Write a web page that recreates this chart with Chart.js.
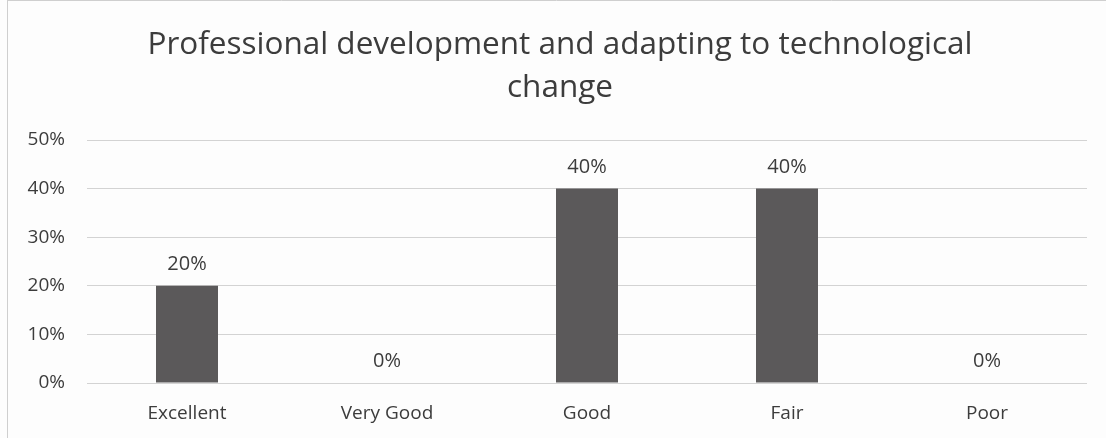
<!DOCTYPE html>
<html>
<head>
<meta charset="utf-8">
<script src="https://cdn.jsdelivr.net/npm/chart.js@4/dist/chart.umd.min.js"></script>
<style>
  html, body { margin: 0; padding: 0; background: #fdfdfd; }
  #wrap { width: 1106px; height: 438px; position: relative; }
</style>
</head>
<body>
<div id="wrap"><canvas id="chart" width="1106" height="438"></canvas></div>
<script>
// ratings chart
const categories = ['Excellent', 'Very Good', 'Good', 'Fair', 'Poor'];
const percentValues = [20, 0, 40, 40, 0];
const tickLabels = ['0%', '10%', '20%', '30%', '40%', '50%'];
const titleLines = ['Professional development and adapting to technological', 'change'];

const textColor = '#3c3c3c';
const fontName = "'Open Sans', 'Noto Sans', sans-serif";

// draws the % above each bar (no datalabels plugin available offline)
const barLabels = {
  id: 'barLabels',
  afterDatasetsDraw(chart) {
    const ctx = chart.ctx;
    const meta = chart.getDatasetMeta(0);
    ctx.save();
    ctx.font = '20px ' + fontName;
    ctx.fillStyle = textColor;
    ctx.textAlign = 'center';
    ctx.textBaseline = 'alphabetic';
    meta.data.forEach((bar, i) => {
      ctx.fillText(percentValues[i] + '%', bar.x, bar.y - 16);
    });
    ctx.restore();
  }
};

// title drawn by hand so it can sit a bit right of the plot centre, like the original
const titlePlugin = {
  id: 'titlePlugin',
  afterDraw(chart) {
    const ctx = chart.ctx;
    ctx.save();
    ctx.font = '31.5px ' + fontName;
    ctx.fillStyle = textColor;
    ctx.textAlign = 'center';
    ctx.textBaseline = 'middle';
    ctx.fillText(titleLines[0], 560, 45);
    ctx.fillText(titleLines[1], 560, 88);
    ctx.restore();
  }
};

// faint frame edge like the scanned page
const frame = {
  id: 'frame',
  beforeDraw(chart) {
    const ctx = chart.ctx;
    ctx.save();
    ctx.strokeStyle = '#cfcfcf';
    ctx.lineWidth = 1;
    ctx.beginPath();
    ctx.moveTo(7.5, 0);
    ctx.lineTo(7.5, chart.height);
    ctx.moveTo(7, 0.5);
    ctx.lineTo(chart.width, 0.5);
    ctx.stroke();
    ctx.restore();
  }
};

const config = {
  type: 'bar',
  data: {
    labels: categories,
    datasets: [{
      data: percentValues,
      backgroundColor: '#5b595a',
      barPercentage: 0.62,
      categoryPercentage: 0.5
    }]
  },
  options: {
    responsive: false,
    animation: false,
    layout: { padding: { left: 0, right: 19, top: 140, bottom: 0 } },
    plugins: {
      legend: { display: false },
      tooltip: { enabled: false },
      title: { display: false }
    },
    scales: {
      x: {
        grid: { display: false },
        border: { display: false },
        ticks: { color: textColor, font: { family: fontName, size: 19 }, padding: 11 },
        afterFit(scale) { scale.height = 55; }
      },
      y: {
        min: 0,
        max: 50,
        ticks: {
          stepSize: 10,
          color: textColor,
          padding: 22,
          font: { family: fontName, size: 19 },
          callback: (v) => tickLabels[v / 10]
        },
        grid: { color: '#d3d3d3', lineWidth: 1, drawTicks: false },
        border: { display: false },
        afterFit(scale) { scale.width = 87; }
      }
    }
  },
  plugins: [frame, barLabels, titlePlugin]
};

var myChart = new Chart(document.getElementById('chart'), config);
</script>
</body>
</html>
